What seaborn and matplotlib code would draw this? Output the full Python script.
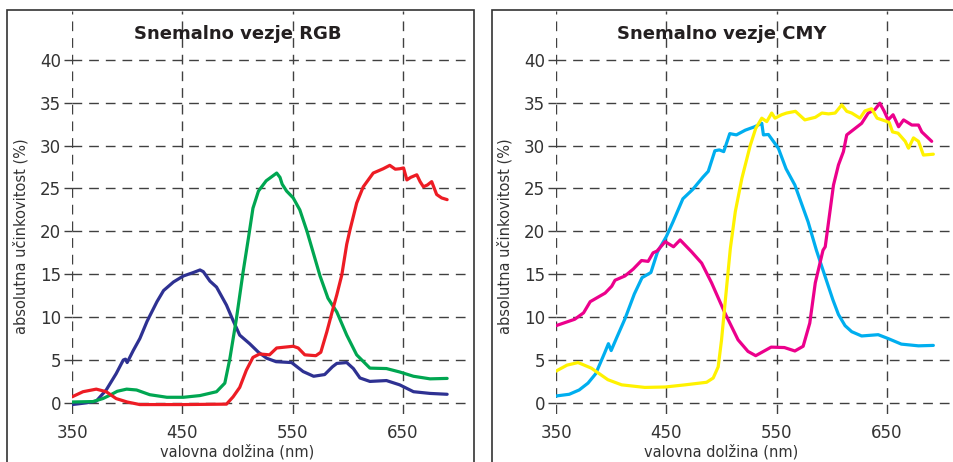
import pandas as pd
import matplotlib.pyplot as plt
import seaborn as sns
from matplotlib.patches import Rectangle

# --- RGB senzor (valovna dolzina v nm, ucinkovitost v %) ---
blue_nm = [350, 363, 372, 381, 390, 396.5, 398.5, 400, 405.5, 411.5, 418, 427, 433, 442, 451, 460, 466, 469,
           475, 481, 490, 496, 502, 511, 519, 526.5, 535, 549, 559.5, 569, 579, 586, 590, 599, 605, 611, 620,
           635, 647, 659.5, 674.5, 690]
blue_pct = [-0.2, 0, 0.2, 1.5, 3.4, 5.0, 5.1, 4.7, 6.1, 7.5, 9.5, 11.8, 13.1, 14.1, 14.8, 15.2, 15.5, 15.3,
            14.2, 13.5, 11.4, 9.6, 7.9, 6.9, 5.9, 5.2, 4.8, 4.7, 3.65, 3.1, 3.3, 4.2, 4.6, 4.7, 4.0, 2.9, 2.5,
            2.6, 2.1, 1.3, 1.1, 1.0]

green_nm = [350, 369, 378, 384.5, 391, 399.5, 408.5, 420.5, 436, 451, 466, 481, 488.5, 493, 499, 505, 510, 514,
            519, 526, 535.5, 538.5, 540.5, 544.5, 550.5, 556.5, 563, 574.8, 582, 590, 599, 608, 620, 635, 647,
            659.5, 674.5, 690]
green_pct = [0.1, 0.15, 0.5, 0.9, 1.35, 1.6, 1.5, 0.95, 0.65, 0.65, 0.85, 1.3, 2.3, 5.1, 9.8, 15.2, 19.3, 22.7,
             24.7, 25.9, 26.8, 26.3, 25.5, 24.7, 23.9, 22.5, 20.0, 14.8, 12.2, 10.6, 7.9, 5.6, 4.05, 4.0, 3.6,
             3.1, 2.8, 2.85]

red_nm = [350, 360, 372, 381, 390, 400, 411.5, 451, 490, 496, 502, 508, 514, 520, 529, 535.5, 550.5, 555, 561,
          571, 575.5, 581, 587, 590, 594.5, 599, 602, 608, 614, 623, 632, 638, 643, 647, 650.5, 653.5, 657,
          662.5, 665.5, 668.5, 672, 676, 680.5, 685, 690]
red_pct = [0.7, 1.3, 1.6, 1.3, 0.5, 0.1, -0.2, -0.2, -0.15, 0.7, 1.8, 3.8, 5.3, 5.7, 5.6, 6.4, 6.6, 6.4, 5.6,
           5.5, 5.9, 8.3, 11.2, 12.6, 14.9, 18.5, 20.2, 23.3, 25.2, 26.8, 27.3, 27.7, 27.25, 27.3, 27.4, 26.0,
           26.3, 26.6, 25.8, 25.2, 25.4, 25.8, 24.3, 23.9, 23.7]

# --- CMY senzor ---
cyan_nm = [350, 362, 371, 379, 386, 390, 394, 397.5, 400, 405, 412.5, 421, 428, 436, 442, 450, 456, 465, 474,
           483, 488, 494, 498, 502, 507.5, 513.5, 521.5, 530, 536.5, 538, 542.5, 551.5, 558.5, 566.5, 578.5,
           586, 594, 601, 606, 612, 618, 627, 642, 651, 663, 678.5, 692]
cyan_pct = [0.8, 1.0, 1.5, 2.3, 3.4, 4.6, 5.8, 6.9, 6.1, 7.6, 9.8, 12.7, 14.6, 15.2, 17.6, 19.4, 21.1, 23.8,
            24.9, 26.3, 27.0, 29.4, 29.5, 29.3, 31.4, 31.25, 31.8, 32.2, 32.6, 31.25, 31.3, 29.7, 27.3, 25.4,
            21.1, 17.8, 14.7, 12.0, 10.3, 9.0, 8.3, 7.8, 7.95, 7.5, 6.85, 6.65, 6.7]

magenta_nm = [350, 367, 375, 381, 394.5, 400.5, 403.5, 412.5, 420, 427.5, 433.5, 438, 441.5, 449, 456.5, 462.5,
              473, 482, 491, 503, 515, 524, 531, 545, 557, 566.5, 574, 580, 585, 592, 594, 601.5, 606, 610.5,
              613.5, 621, 627, 633, 639, 643.5, 647.5, 651, 655.5, 660.5, 665, 672.5, 678.5, 681.5, 690.5]
magenta_pct = [9.0, 9.75, 10.5, 11.8, 12.8, 13.6, 14.3, 14.8, 15.6, 16.6, 16.5, 17.5, 17.7, 18.8, 18.2, 19.0,
               17.6, 16.3, 14.0, 10.5, 7.35, 6.0, 5.5, 6.5, 6.45, 6.05, 6.6, 9.3, 14.0, 17.8, 18.2, 25.4, 27.75,
               29.3, 31.25, 32.0, 32.6, 33.8, 34.2, 34.95, 34.0, 33.0, 33.6, 32.2, 33.0, 32.4, 32.4, 31.6, 30.5]

yellow_nm = [350, 360, 370, 382, 397, 409.5, 430.5, 449, 467, 486.5, 492.5, 497, 500, 505, 508, 512.5, 518.5,
             526, 531, 536.5, 541, 545.5, 548.5, 554.5, 559, 567, 575.5, 585, 591, 597, 603, 609, 613.5, 618,
             625.5, 630, 636, 641, 648, 652, 655, 660, 666.5, 669.5, 674, 678.5, 683, 692]
yellow_pct = [3.7, 4.4, 4.7, 4.05, 2.7, 2.1, 1.8, 1.85, 2.1, 2.4, 2.9, 4.2, 7.3, 14.0, 18.0, 22.3, 26.2,
              30.0, 32.0, 33.2, 32.8, 33.8, 33.2, 33.6, 33.8, 34.0, 33.0, 33.3, 33.8, 33.7, 33.8, 34.75, 34.0,
              33.8, 33.2, 34.05, 34.3, 33.2, 32.9, 32.7, 31.6, 31.45, 30.5, 29.7, 30.9, 30.5, 28.9, 29.0]

x_ticks = [350, 450, 550, 650]
y_ticks = [0, 5, 10, 15, 20, 25, 30, 35, 40]

rgb_colors = {'B': '#2e3192', 'G': '#00a651', 'R': '#ed1c24'}
cmy_colors = {'C': '#00aeef', 'M': '#ec008c', 'Y': '#fff200'}


def to_long(series):
    frames = []
    for name, (nm, pct) in series.items():
        frames.append(pd.DataFrame({'nm': nm, 'pct': pct, 'kanal': name}))
    return pd.concat(frames, ignore_index=True)


sns.set_theme(style='white')
plt.rcParams['font.family'] = ['DejaVu Sans']

W, H = 954, 462
fig = plt.figure(figsize=(W / 100, H / 100), dpi=100)
ax_rgb = fig.add_axes([72 / W, 48 / H, 395 / W, 403 / H])
ax_cmy = fig.add_axes([556 / W, 48 / H, 395 / W, 403 / H])

# okvirja okrog obeh grafov
fig.add_artist(Rectangle((7 / W, -0.02), 467 / W, 1.0 - 10 / H + 0.02, transform=fig.transFigure,
                         fill=False, ec='#333333', lw=1.2))
fig.add_artist(Rectangle((492 / W, -0.02), 480 / W, 1.0 - 10 / H + 0.02, transform=fig.transFigure,
                         fill=False, ec='#333333', lw=1.2))


def draw_panel(ax, df, palette, title):
    sns.lineplot(data=df, x='nm', y='pct', hue='kanal', palette=palette, estimator=None, sort=False,
                 lw=2.3, legend=False, ax=ax)
    ax.set_xlim(350, 708)
    ax.set_ylim(-1.3, 45.7)
    ax.set_xticks(x_ticks)
    ax.set_yticks(y_ticks)
    ax.grid(True, color='#404040', linestyle=(0, (7, 5)), linewidth=1.0)
    for s in ax.spines.values():
        s.set_visible(False)
    ax.tick_params(axis='x', length=0, pad=7, labelsize=12, labelcolor='#333333')
    ax.tick_params(axis='y', left=True, length=6, width=1, color='#404040', pad=2, labelsize=12,
                   labelcolor='#333333')
    ax.set_xlabel('valovna dolžina (nm)', fontsize=10.5, color='#333333')
    ax.xaxis.set_label_coords(150 / 358, -0.075)
    ax.set_ylabel('absolutna učinkovitost (%)', fontsize=10.5, color='#333333')
    ax.yaxis.set_label_coords(-0.11, 0.44)
    ax.text(500, 43.0, title, ha='center', va='center', fontsize=13, fontweight='heavy',
            color='#231f20')


draw_panel(ax_rgb, to_long({'B': (blue_nm, blue_pct), 'G': (green_nm, green_pct), 'R': (red_nm, red_pct)}),
           rgb_colors, 'Snemalno vezje RGB')
draw_panel(ax_cmy, to_long({'C': (cyan_nm, cyan_pct), 'M': (magenta_nm, magenta_pct),
                            'Y': (yellow_nm, yellow_pct)}),
           cmy_colors, 'Snemalno vezje CMY')

fig.savefig('out.png', dpi=100)
